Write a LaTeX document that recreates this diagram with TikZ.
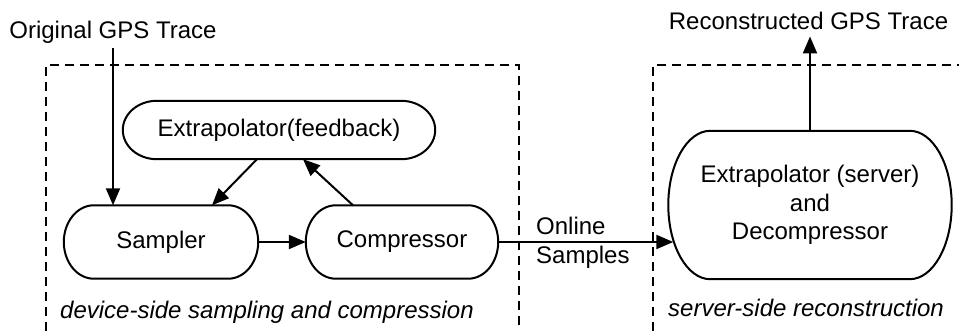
\documentclass[tikz,border=0pt]{standalone}
\usepackage{fontspec}
\setmainfont{Liberation Sans}
\usetikzlibrary{arrows.meta,calc}
\tikzset{
  lbl/.style={inner sep=0pt, font=\fontsize{24}{28.5}\selectfont},
  box/.style={lbl, align=center},
  shapeline/.style={line width=2pt},
  arr/.style={line width=2pt, -{Triangle[length=17pt,width=14pt]}},
  region/.style={line width=2pt, dash pattern=on 9pt off 6pt},
}
\newcommand\capsuleoutline[2]{%
  \draw[shapeline] let \p1=($(#1.north)-(#1.south)$) in
    ([xshift=#2]#1.north west) -- ([xshift=-#2]#1.north east)
    arc[start angle=90,end angle=-90,x radius=#2,y radius=0.5*\y1]
    -- ([xshift=#2]#1.south west)
    arc[start angle=270,end angle=90,x radius=#2,y radius=0.5*\y1] -- cycle;}
\begin{document}
\begin{tikzpicture}[x=1pt,y=1pt]
\useasboundingbox (0,0) rectangle (959,-331);
% regions
\draw[region] (46,-331) -- (46,-65) -- (519,-65) -- (519,-331);
\draw[region] (653,-331) -- (653,-65) -- (959,-65);
% nodes
\node[box, minimum width=312pt, minimum height=58pt] (ext) at (279,-130) {Extrapolator(feedback)};
\node[box, minimum width=194pt, minimum height=73pt] (smp) at (161,-242) {Sampler};
\node[box, minimum width=192pt, minimum height=73pt] (cmp) at (402,-242) {Compressor};
\node[box, minimum width=283pt, minimum height=148pt] (srv) at (810,-205) {Extrapolator (server)\\and\\Decompressor};
\capsuleoutline{ext}{34pt}
\capsuleoutline{smp}{30pt}
\capsuleoutline{cmp}{30pt}
\capsuleoutline{srv}{42pt}
% labels
\node[lbl, anchor=base] (orig) at (113,-39) {Original GPS Trace};
\node[lbl, anchor=base] (rec) at (808.5,-30) {Reconstructed GPS Trace};
\node[lbl, align=left, anchor=west] (onl) at (536,-243) {Online\\Samples};
\node[lbl, anchor=west, font=\fontsize{24}{28.5}\selectfont\itshape] (dev) at (60,-312) {device-side sampling and compression};
\node[lbl, anchor=west, font=\fontsize{24}{28.5}\selectfont\itshape] (srs) at (668,-308) {server-side reconstruction};
% connectors
\draw[arr] ([yshift=-4pt]orig.south) -- (orig.south |- smp.north);
\draw[arr] (smp.east) -- (cmp.west);
\draw[arr] ([xshift=-22pt]ext.south) -- ([xshift=51pt]smp.north);
\draw[arr] ([xshift=-49pt]cmp.north) -- ([xshift=24pt]ext.south);
\draw[arr] (cmp.east) -- ([xshift=5pt]srv.west |- cmp.east);
\draw[arr] (srv.north) -- ([yshift=-6pt]srv.north |- rec.south);
\end{tikzpicture}
\end{document}
